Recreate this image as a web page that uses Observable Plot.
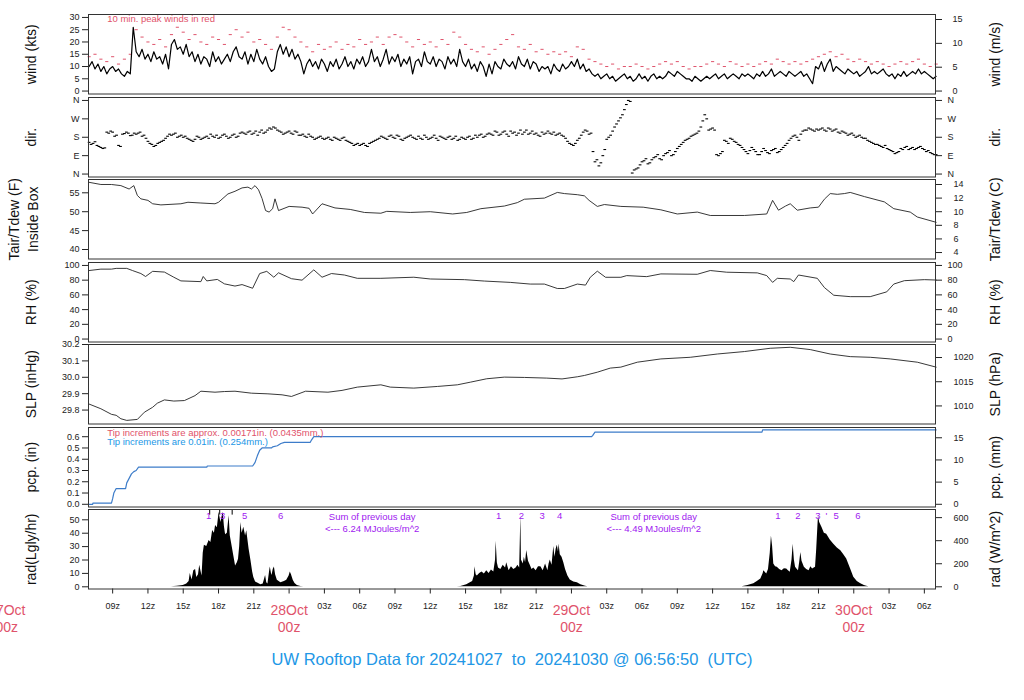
<!DOCTYPE html>
<html><head><meta charset="utf-8">
<script src="https://cdn.jsdelivr.net/npm/d3@7"></script>
<script src="https://cdn.jsdelivr.net/npm/@observablehq/plot@0.6"></script>
<style>
body{margin:0;background:#fff;}
#wrap{position:relative;width:1024px;height:700px;overflow:hidden;background:#fff;font-family:"Liberation Sans",Arial,Helvetica,sans-serif;}
#title{position:absolute;left:0;width:1024px;top:650px;text-align:center;color:#2297E6;font-size:16.5px;white-space:pre;line-height:19px;}
</style></head><body><div id="wrap"><div id="title">UW Rooftop Data for 20241027  to  20241030 @ 06:56:50  (UTC)</div></div>
<script>
// ---------------- DATA ----------------
// 10-min mean wind (kts), every 15 min starting 07:00Z 27 Oct
const windStartHour = 7, windStepHours = 0.25;
const windKts = [
10,12,9,11, 8,10,7,9, 10,8,9,7, 6,8,7,26,
16,14,17,13, 15,12,16,13, 14,11,15,9, 19,21,17,18,
15,19,14,16, 12,15,11,14, 13,10,16,12, 14,11,13,15,
12,16,18,14, 13,16,11,15, 12,17,13,11, 14,10,8,9,
16,19,15,18, 14,17,13,15, 12,7,11,13, 10,12,9,13,
11,8,12,10, 13,9,11,14, 10,12,9,13, 11,14,10,12,
17,12,14,10, 13,17,11,14, 12,15,10,13, 11,14,7,12,
13,10,16,12, 11,14,10,13, 12,9,14,11, 13,10,17,12,
10,13,9,11, 8,12,10,6, 11,7,12,10, 9,13,11,10,
12,9,14,11, 10,13,9,12, 11,8,10,9, 10,7,11,9,
8,11,9,10, 12,10,13,9, 11,8,9,7, 6,7,5,6,
7,5,6,4, 5,6,7,5, 6,4,5,7, 5,6,4,6,
7,5,6,5, 6,8,7,6, 8,7,6,5, 5,4,6,5,
4,5,6,5, 6,7,5,6, 7,5,6,7, 6,5,7,6,
7,6,5,7, 6,8,6,7, 9,6,7,8, 7,6,8,7,
6,7,8,6, 7,5,3,10, 9,12,8,11, 13,8,10,9,
8,7,9,8, 7,8,6,7, 8,10,7,8, 7,8,9,7,
6,7,5,7, 6,8,6,7, 8,7,9,7, 8,7,6,5,
6];
// 10-min peak wind (kts), every 30 min starting 07:00Z
const peakStartHour = 7, peakStepHours = 0.5;
const peakKts = [
14,15,13,12,14,11,13,15, 25,22,20,19,21,18,23,26,
24,21,23,20,19,22,21,19, 23,25,22,24,20,21,19,17,
22,26,25,22,20,18,16,19, 17,18,20,17,19,18,21,19,
20,22,19,22,23,22,20,18, 21,19,20,18,21,19,24,22,
19,17,16,18,15,17,19,21, 23,18,17,19,16,17,15,16,
15,16,14,18,17,13,12,11, 10,11,9,10,10,11,10,9,
10,11,12,11,12,10,9,10, 10,11,12,11,10,12,11,10,
11,10,11,12,11,13,12,11, 12,11,12,13,14,15,16,14,
15,13,12,13,12,11,12,11, 10,11,12,11,12,13,11,10,
11];
// wind direction (deg), every 20 min starting 07:00Z
const dirStartHour = 7, dirStepHours = 1/3;
const dirDeg = [
155,150,140, 130,128,200, 205,190,135, 198,200,190, 195,205,190, 160,145,140,
155,165,185, 190,200,185, 180,175,165, 170,180,175, 185,195,180, 175,190,185,
180,195,185, 205,195,210, 200,190,215, 205,225,230, 215,205,200, 210,195,205,
190,185,195, 180,175,185, 170,180,165, 175,165,180, 160,150,145, 140,150,135,
155,165,175, 180,170,190, 175,185,165, 180,190,175, 185,170,180, 175,190,165,
180,170,185, 175,165,180, 170,185,175, 180,195,185, 200,190,205, 195,210,185,
200,190,215, 205,195,210, 200,185,195, 210,195,190, 200,185,160, 145,150,175,
205,210,200, 60,40,90, 170,190,230, 260,290,340, 355,20,30, 60,75,55,
80,95,70, 100,115,95, 125,145,165, 175,190,200, 230,290,215, 225,95,100,
165,150,170, 155,140,120, 100,130,110, 95,125,105, 115,125,110, 130,150,175,
190,165,210, 215,220,210, 215,225,210, 220,215,205, 210,200,195, 190,185,180,
175,160,150, 145,135,140, 120,110,105, 125,130,120, 130,125,135, 120,115,100,
95];
// wind direction (deg), the readings in between, every 20 min starting 07:10Z
const dirMidStartHour = 7 + 1/6;
const dirDegMid = [
145,158,135, 125,205,210, 185,140,195, 205,188,200, 200,185,175, 150,135,150,
160,175,195, 195,180,190, 185,170,160, 185,170,180, 175,185,190, 180,195,175,
190,180,200, 200,205,195, 210,205,200, 215,220,225, 210,195,205, 200,210,190,
195,180,185, 170,180,175, 175,170,180, 170,175,165, 155,140,150, 145,140,150,
160,170,185, 175,185,180, 190,170,175, 185,180,170, 175,190,170, 180,175,185,
175,180,170, 185,170,175, 180,170,190, 190,180,195, 195,210,190, 205,195,210,
205,200,195, 215,200,195, 190,205,200, 200,205,195, 190,175,150, 140,165,190,
215,195,110, 70,55,120, 180,210,245, 275,315,360, 5,25,45, 65,50,70,
85,75,90, 105,90,110, 135,155,170, 185,195,210, 260,270,220, 215,90,110,
160,175,160, 145,130,110, 115,120,95, 110,115,100, 120,105,120, 140,165,185,
180,195,215, 225,215,220, 220,215,225, 210,220,200, 205,190,200, 180,190,175,
165,155,145, 140,130,125, 115,100,110, 120,135,125, 120,130,125, 110,105,95];
// [hour since 27 Oct 00Z, value]
const tempF = [[6.95,57.8],[8,57.2],[8.9,57.2],[9.7,56.9],[10.4,56.0],[10.8,56.9],[11.1,54.3],[11.4,53.4],[12,53.0],[12.4,52.1],[13.1,51.8],[14.8,52.1],[15.4,52.5],[16.5,52.3],[17.7,52.1],[18,52.5],[18.8,54.7],[19.4,55.4],[20,56.3],[20.5,56.5],[20.8,56.0],[21.1,56.9],[21.4,55.8],[21.7,53.5],[22,50.3],[22.3,49.9],[22.6,50.8],[22.8,53.4],[23.1,50.3],[24,51.4],[25.1,51.2],[25.7,50.9],[26,49.4],[26.8,52.1],[27.9,51.0],[29.2,50.6],[30.4,49.8],[31.8,49.6],[32.3,50.1],[34.3,49.8],[36,50.0],[37.9,49.4],[39.1,49.8],[40.3,50.8],[42.3,51.5],[43.4,52.4],[44,53.3],[45.7,53.6],[46.8,55.1],[47.4,54.8],[48.5,54.5],[49.1,54.2],[49.5,53.0],[50.2,51.4],[50.8,51.9],[52.2,51.4],[54.1,51.2],[55.6,50.5],[57,49.4],[58.7,49.9],[59.8,49.0],[62.7,49.0],[64.6,49.4],[65.1,53.0],[65.6,50.4],[66.2,51.5],[66.6,52.1],[67.2,50.4],[68.3,51.0],[69,51.2],[69.5,53.3],[70,54.8],[70.6,54.6],[71.2,54.8],[71.7,55.1],[72.9,54.0],[74.6,52.6],[75.4,50.8],[76.8,49.9],[77.4,48.6],[79,47.2]];
const rhPct = [[6.95,93],[8,95],[8.9,95],[9.3,96],[10.2,96],[10.7,93],[11.4,89],[11.8,85],[12.4,92],[13.4,91],[14.2,84],[14.8,79],[16.5,78],[16.7,85],[17,79],[17.9,81],[18.5,75],[19.4,72],[20,74],[20.9,69],[21.5,89],[22.1,92],[22.7,84],[23.1,90],[24.2,82],[25.1,80],[26.1,94],[26.8,84],[27.6,89],[28.7,87],[29.8,82.5],[31.8,82.5],[34.6,84],[36,81.6],[38.9,80.7],[40.6,78.8],[42.8,77],[44.5,74.7],[45.7,74.7],[46.8,68.7],[47.4,68.7],[48.5,74.7],[49.2,73.3],[49.6,83.9],[50.2,92.2],[50.9,83.9],[52.2,83.9],[52.7,86.2],[54.4,84.8],[55.6,88.5],[58.7,88],[59.8,93.1],[61.2,90.8],[63.8,89.9],[64.6,86.2],[65.1,77],[65.5,82.5],[66.6,81.6],[66.9,78],[67.3,87],[68.9,82.5],[69.5,70],[70.3,59.5],[71.7,57.6],[73.4,57.6],[74.8,64.1],[75.4,74.7],[76.3,79.3],[78,80.7],[79,80.2]];
const slpInHg = [[6.95,29.838],[8,29.808],[8.9,29.774],[9.3,29.768],[9.7,29.747],[10.2,29.737],[11.1,29.743],[11.7,29.787],[12.4,29.817],[12.8,29.842],[13.4,29.862],[14.2,29.855],[15.1,29.858],[16,29.888],[16.5,29.915],[17.7,29.909],[18.5,29.913],[19.4,29.915],[20.8,29.903],[22.2,29.899],[23.4,29.893],[24.2,29.883],[25.4,29.915],[27.3,29.909],[28.5,29.92],[29.8,29.94],[31.8,29.954],[32.6,29.94],[34.6,29.934],[36.6,29.944],[38.3,29.954],[39.4,29.97],[40.8,29.991],[42.3,30.001],[44,29.999],[45.9,29.995],[47.2,29.99],[48.5,30.003],[49.1,30.011],[50.2,30.031],[51.3,30.056],[52.2,30.062],[53.6,30.092],[55.6,30.112],[58.1,30.122],[60.4,30.142],[62.7,30.157],[64.9,30.177],[66.6,30.183],[68.3,30.169],[70,30.142],[71.7,30.126],[73.4,30.122],[75.1,30.112],[77.4,30.092],[79,30.062]];
const pcpIn = [[6.95,0],[7.3,0],[7.32,0.01],[8.9,0.01],[9.0,0.05],[9.1,0.10],[9.3,0.14],[10.1,0.14],[10.2,0.19],[10.4,0.23],[10.6,0.27],[10.8,0.29],[11.0,0.30],[11.2,0.33],[17.0,0.33],[17.05,0.34],[20.9,0.34],[21.1,0.37],[21.3,0.43],[21.5,0.48],[21.7,0.50],[22.5,0.50],[22.6,0.51],[23.0,0.52],[23.3,0.54],[23.6,0.55],[25.8,0.55],[25.9,0.57],[26.1,0.60],[49.7,0.60],[49.8,0.61],[50.0,0.64],[64.2,0.64],[64.25,0.66],[79.0,0.66]];
const radLgly = [
[14.0,0],[14.5,0.5],[15.0,1],[15.3,2],[15.5,4],[15.6,10],[15.75,5],[15.9,12],[16.05,13],[16.15,7],[16.3,9],[16.4,16],[16.5,12],[16.6,8],[16.7,25],[16.8,31],[17.0,30],[17.2,34.6],[17.35,33],[17.5,42],[17.65,40],[17.75,45.7],[17.9,44],[18.05,55.7],[18.2,48],[18.3,52],[18.4,55.7],[18.5,45],[18.6,38.9],[18.75,40],[18.9,53],[19.0,38],[19.1,33],[19.3,23],[19.45,15.6],[19.6,18],[19.7,20.6],[19.8,30],[19.9,48],[20.0,40],[20.15,44.4],[20.3,38],[20.4,41.9],[20.5,35],[20.6,28.1],[20.75,20],[20.9,11],[21.0,7],[21.15,3.5],[21.4,2.5],[21.6,1.5],[21.8,2],[22.0,8.5],[22.1,3],[22.2,2],[22.35,12],[22.4,14.7],[22.5,10],[22.55,8.5],[22.65,13],[22.75,14.7],[22.85,9],[23.0,4.8],[23.3,3],[23.6,4],[23.8,4.8],[24.0,8],[24.1,11],[24.2,9],[24.35,4.8],[24.5,2.5],[24.7,1],[25.0,0.3],[25.25,0],
[38.3,0],[38.6,0.3],[39.1,1.5],[39.6,4],[39.75,8],[39.8,15],[39.9,9],[40,8],[40.2,10],[40.4,11],[40.6,9.5],[40.8,12],[41.0,10],[41.2,12.5],[41.4,11],[41.55,20],[41.6,34],[41.7,18],[41.8,14],[42.0,13],[42.2,16],[42.4,14],[42.5,18],[42.7,12],[42.9,15],[43.1,13],[43.3,14],[43.45,16],[43.6,14],[43.7,53],[43.75,20],[43.9,17],[44.0,22],[44.1,18],[44.2,27],[44.35,19],[44.5,16],[44.65,13],[44.8,14],[45.0,12],[45.2,15],[45.4,15],[45.6,12],[45.8,17],[46.0,12],[46.1,17],[46.2,20],[46.35,16],[46.5,30],[46.6,22],[46.7,28],[46.8,31],[46.9,26],[46.95,32],[47.05,24],[47.2,22],[47.35,18],[47.5,13],[47.7,8],[47.9,5],[48.2,3.5],[48.5,3],[48.8,1.5],[49.2,0.5],[49.4,0],
[62.5,0],[62.7,0.4],[63.0,1],[63.5,2.2],[63.8,4],[64.1,5.9],[64.3,10],[64.35,12],[64.45,11],[64.6,9.6],[64.75,13],[64.9,25],[65.0,38],[65.1,30],[65.2,17],[65.35,15],[65.5,14.5],[65.7,13],[65.9,12],[66.1,13.5],[66.3,13.3],[66.45,12],[66.6,10.8],[66.75,20],[66.85,31.8],[66.95,20],[67.05,14.5],[67.2,13],[67.3,12],[67.4,18],[67.5,25.6],[67.6,19],[67.8,14.5],[68.0,13],[68.2,12],[68.35,15],[68.5,13.3],[68.75,14.5],[68.85,28],[68.95,45],[69.0,52.9],[69.1,48],[69.3,44.2],[69.5,40],[69.7,39.3],[70.0,35],[70.3,31.8],[70.6,29],[70.9,26.9],[71.15,24],[71.4,20.7],[71.7,14],[72.0,7.1],[72.3,4],[72.6,2.2],[72.9,1],[73.1,0.4],[73.3,0]];
const radMarkHours = [17.17,18.36,20.23,23.27, 41.82,43.75,45.5,47.0, 65.54,67.24,68.94,69.68,70.5,72.34];
const radMarkText  = ["1","3","5","6", "1","2","3","4", "1","2","3","'","5","6"];
const radTopTickHours = [17.25,18.1,19.16];
const sumHours = [31.06, 55.0];
const sumText = ["Sum of previous day\n<--- 6.24 MJoules/m^2", "Sum of previous day\n<--- 4.49 MJoules/m^2"];
const dayStarts = ["2024-10-27","2024-10-28","2024-10-29","2024-10-30"];

// tick values
const windKtTicks = [0,5,10,15,20,25,30], windMsTicks = [0,5,10,15];
const dirTicks = [0,90,180,270,360], dirTickLabels = ["N","E","S","W","N"];
const tempFTicks = [40,45,50,55], tempCTicks = [4,6,8,10,12,14];
const rhTicks = [0,20,40,60,80,100];
const slpInTicks = [29.8,29.9,30.0,30.1,30.2], slpHpaTicks = [1010,1015,1020];
const pcpInTicks = [0,0.1,0.2,0.3,0.4,0.5,0.6], pcpMmTicks = [0,5,10,15];
const radLTicks = [0,10,20,30,40,50], radWTicks = [0,200,400,600];

// ---------------- CHART ----------------
const RED = "#DF536B", BLUE = "#2297E6", PURPLE = "#A020F0", PCP = "#3d7cc9";
const FONT = '"Liberation Sans", Arial, Helvetica, sans-serif';
const BASE = Date.UTC(2024, 9, 27);
const H = h => new Date(BASE + h * 3600e3);
const T0 = new Date(Date.UTC(2024,9,27,6,56,50)), T1 = new Date(Date.UTC(2024,9,30,6,56,50));
const KT_PER_MS = 1.943844, HPA_PER_IN = 33.8639, MM_PER_IN = 25.4, W_PER_LGLY = 11.622;

const windData = windKts.map((v,i) => ({t: H(windStartHour + i*windStepHours), v}));
const peakData = peakKts.map((v,i) => ({t: H(peakStartHour + i*peakStepHours), v}));
const dirData = dirDeg.map((v,i) => ({t: H(dirStartHour + i*dirStepHours), v}))
  .concat(dirDegMid.map((v,i) => ({t: H(dirMidStartHour + i*dirStepHours), v})));
const pair = arr => arr.map(([h,v]) => ({t: H(h), v}));
const MIN = 60e3;

const wrap = document.getElementById("wrap");
const PANEL_TOP = 14, PANEL_H = 79.5, PANEL_STEP = 82.5, MT = 6;

function addPanel(i, ydomain, marks, last=false) {
  const mb = last ? 50 : 6;
  const svg = Plot.plot({
    width: 1024, height: PANEL_H + MT + mb,
    marginLeft: 88, marginRight: 89, marginTop: MT, marginBottom: mb,
    style: {background:"transparent", fontFamily: FONT, fontSize:"9px", color:"#222", maxWidth:"none", overflow:"visible"},
    x: last ? {type:"utc", domain:[T0,T1]} : {type:"utc", domain:[T0,T1], axis:null},
    y: {domain: ydomain},
    marks: [...marks, Plot.frame({stroke:"#333", strokeWidth:1})]
  });
  svg.style.position = "absolute"; svg.style.left = "0px";
  svg.style.top = (PANEL_TOP + PANEL_STEP*i - MT) + "px";
  wrap.appendChild(svg);
}
function yAxes(lt, lf, rt, rf, rpad) {
  return [
    Plot.axisY(lt, {anchor:"left", tickSize:6, tickPadding:3, tickFormat:lf, fontSize:9, label:null}),
    Plot.axisY(rt, {anchor:"right", tickSize:6, tickPadding:rpad, tickFormat:rf, fontSize:9, label:null})
  ];
}
function yLabels(left, right, ldx=-59, rdx=60) {
  return [
    Plot.text([left], {text:d=>d, frameAnchor:"left", dx:ldx, rotate:-90, textAnchor:"middle", lineAnchor:"middle", fontSize:14, fill:"#111", lineHeight:1.36}),
    Plot.text([right], {text:d=>d, frameAnchor:"right", dx:rdx, rotate:-90, textAnchor:"middle", lineAnchor:"middle", fontSize:14, fill:"#111"})
  ];
}
const dirFmt = v => dirTickLabels[dirTicks.indexOf(v)];

// 1 wind
addPanel(0, [-1.2, 31.2], [
  ...yAxes(windKtTicks, d3.format("d"), windMsTicks.map(v=>v*KT_PER_MS), v=>String(Math.round(v/KT_PER_MS)), 11),
  ...yLabels("wind (kts)", "wind (m/s)"),
  Plot.link(peakData, {x1:d=>new Date(+d.t-8*MIN), x2:d=>new Date(+d.t+8*MIN), y1:"v", y2:"v", stroke:RED, strokeWidth:1}),
  Plot.line(windData, {x:"t", y:"v", stroke:"#000", strokeWidth:1.2}),
  Plot.text(["10 min. peak winds in red"], {text:d=>d, frameAnchor:"top-left", dx:18.7, dy:4.5, textAnchor:"start", lineAnchor:"middle", fill:RED, fontSize:9.5})
]);
// 2 dir
addPanel(1, [-14.4, 374.4], [
  ...yAxes(dirTicks, dirFmt, dirTicks, dirFmt, 6),
  ...yLabels("dir.", "dir."),
  Plot.link(dirData, {x1:d=>new Date(+d.t-7*MIN), x2:d=>new Date(+d.t+7*MIN), y1:"v", y2:"v", stroke:"#000", strokeWidth:1.1})
]);
// 3 temp
addPanel(2, [37.49, 58.52], [
  ...yAxes(tempFTicks, d3.format("d"), tempCTicks.map(c=>c*9/5+32), v=>String(Math.round((v-32)*5/9)), 12),
  ...yLabels("Tair/Tdew (F)\nInside Box", "Tair/Tdew (C)", -66.5, 60),
  Plot.line(pair(tempF), {x:"t", y:"v", stroke:"#222", strokeWidth:0.9})
]);
// 4 RH
addPanel(3, [-4, 104], [
  ...yAxes(rhTicks, d3.format("d"), rhTicks, d3.format("d"), 6),
  ...yLabels("RH (%)", "RH (%)"),
  Plot.line(pair(rhPct), {x:"t", y:"v", stroke:"#222", strokeWidth:0.9})
]);
// 5 SLP
addPanel(4, [29.715, 30.2], [
  ...yAxes(slpInTicks, d3.format(".1f"), slpHpaTicks.map(v=>v/HPA_PER_IN), v=>String(Math.round(v*HPA_PER_IN)), 12),
  ...yLabels("SLP (inHg)", "SLP (hPa)"),
  Plot.line(pair(slpInHg), {x:"t", y:"v", stroke:"#222", strokeWidth:0.9})
]);
// 6 pcp
addPanel(5, [-0.024, 0.6817], [
  ...yAxes(pcpInTicks, d3.format(".1f"), pcpMmTicks.map(v=>v/MM_PER_IN), v=>String(Math.round(v*MM_PER_IN)), 12),
  ...yLabels("pcp. (in)", "pcp. (mm)"),
  Plot.line(pair(pcpIn), {x:"t", y:"v", stroke:PCP, strokeWidth:1.2}),
  Plot.text(["Tip increments are approx. 0.00171in. (0.0435mm.)"], {text:d=>d, frameAnchor:"top-left", dx:18.7, dy:5, textAnchor:"start", lineAnchor:"middle", fill:RED, fontSize:9.5}),
  Plot.text(["Tip increments are 0.01in. (0.254mm.)"], {text:d=>d, frameAnchor:"top-left", dx:18.7, dy:14, textAnchor:"start", lineAnchor:"middle", fill:BLUE, fontSize:9.5})
]);
// 7 rad
addPanel(6, [-1.64, 57.69], [
  ...yAxes(radLTicks, d3.format("d"), radWTicks.map(v=>v/W_PER_LGLY), v=>String(Math.round(v*W_PER_LGLY)), 12),
  ...yLabels("rad(Lgly/hr)", "rad (W/m^2)"),
  Plot.areaY(pair(radLgly), {x:"t", y:"v", fill:"#000"}),
  Plot.ruleX(radTopTickHours.map(H), {x:d=>d, y1:53.5, y2:57.69, stroke:"#000", strokeWidth:1}),
  Plot.text(radMarkHours.map((h,i)=>({t:H(h), s:radMarkText[i]})), {x:"t", text:"s", frameAnchor:"top", dy:6, textAnchor:"middle", lineAnchor:"middle", fill:PURPLE, fontSize:9.5}),
  Plot.text(sumHours.map((h,i)=>({t:H(h), s:sumText[i]})), {x:"t", text:"s", frameAnchor:"top", dy:2, textAnchor:"middle", lineAnchor:"top", fill:PURPLE, fontSize:9.5, lineHeight:1.25}),
  Plot.axisX(d3.utcHour.every(3).range(T0, T1), {anchor:"bottom", tickSize:5, tickPadding:9, fontSize:9, label:null,
    tickFormat: d => d.getUTCHours() === 0 ? "" : String(d.getUTCHours()).padStart(2,"0") + "z"}),
  Plot.text(dayStarts.map(s => new Date(s + "T00:00:00Z")), {x:d=>d, text: d => d3.utcFormat("%d%b")(d) + "\n00z",
    frameAnchor:"bottom", dy:14, textAnchor:"middle", lineAnchor:"top", fill:RED, fontSize:14, lineHeight:1.2})
], true);
</script></body></html>
